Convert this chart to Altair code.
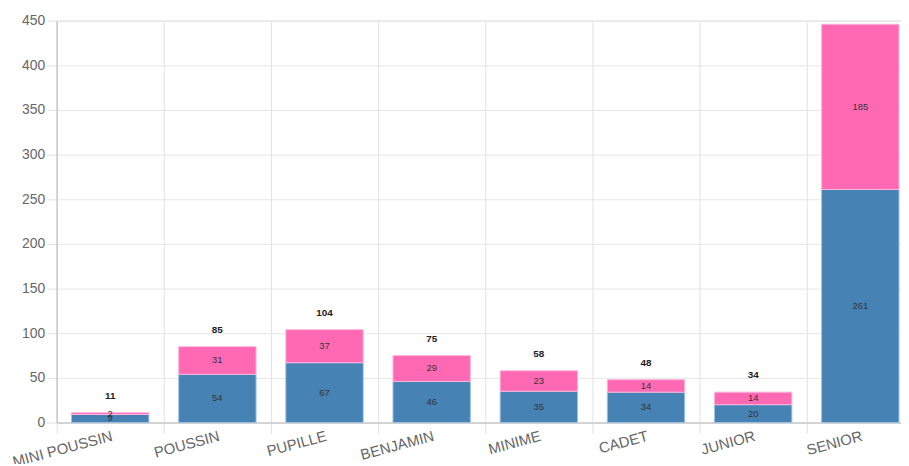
import altair as alt
import pandas as pd

categories = ["MINI POUSSIN", "POUSSIN", "PUPILLE", "BENJAMIN", "MINIME", "CADET", "JUNIOR", "SENIOR"]
series = ["Masculin", "Féminin"]
masculin = [9, 54, 67, 46, 35, 34, 20, 261]
feminin = [2, 31, 37, 29, 23, 14, 14, 185]
y_ticks = [0, 50, 100, 150, 200, 250, 300, 350, 400, 450]

fill_colors = ["#4682B4", "#FF69B4"]
stroke_colors = ["#9fc2e2", "#ffb5da"]

rows = []
for i, c in enumerate(categories):
    rows.append({"cat": c, "series": series[0], "idx": 0, "value": masculin[i]})
    rows.append({"cat": c, "series": series[1], "idx": 1, "value": feminin[i]})
df = pd.DataFrame(rows)

FONT = "Liberation Sans"

x_enc = alt.X(
    "cat:N",
    sort=categories,
    scale=alt.Scale(range=[0, 864], paddingInner=0, paddingOuter=0),
    axis=alt.Axis(
        title=None, grid=True, bandPosition=0,
        labelAngle=345, labelAlign="right", labelBaseline="top",
        labelPadding=-5, tickSize=11, tickColor="#e2e2e2", gridColor="#e2e2e2",
        domainColor="#bdbdbd", labelColor="#666666", labelFontSize=15,
        labelFont=FONT,
    ),
)

base = alt.Chart(df).transform_stack(
    stack="value", as_=["y0", "y1"], groupby=["cat"],
    sort=[alt.SortField("idx", order="ascending")],
).transform_calculate(mid="(datum.y0 + datum.y1) / 2")

bars = base.mark_bar(strokeWidth=1, width={"band": 0.7222}).encode(
    x=x_enc,
    y=alt.Y(
        "y0:Q",
        scale=alt.Scale(domain=[0, 450], nice=False),
        axis=alt.Axis(
            title=None, values=y_ticks, tickSize=10, tickColor="#e2e2e2",
            gridColor="#e6e6e6", domainColor="#bdbdbd", labelColor="#666666",
            labelFontSize=14, labelPadding=2, labelFont=FONT,
        ),
    ),
    y2="y1:Q",
    color=alt.Color("series:N", scale=alt.Scale(domain=series, range=fill_colors), legend=None),
    stroke=alt.Stroke("series:N", scale=alt.Scale(domain=series, range=stroke_colors), legend=None),
)

seg_text = base.mark_text(fontSize=9.5, color="#333333", font=FONT).encode(
    x=alt.X("cat:N", sort=categories),
    y=alt.Y("mid:Q"),
    text=alt.Text("value:Q"),
)

totals = alt.Chart(df).transform_aggregate(
    total="sum(value)", groupby=["cat"]
).transform_filter("datum.total < 440").mark_text(
    fontSize=10, fontWeight="bold", color="#222222", dy=-17, font=FONT
).encode(
    x=alt.X("cat:N", sort=categories),
    y=alt.Y("total:Q"),
    text=alt.Text("total:Q"),
)

chart = alt.layer(bars, seg_text, totals).properties(
    width=851, height=405,
    autosize=alt.AutoSizeParams(type="none"),
    padding={"left": 49, "top": 11, "right": 0, "bottom": 40},
).configure_view(stroke=None).configure(font=FONT)

chart.save("out.html", embed_options={"renderer": "svg", "actions": False})
